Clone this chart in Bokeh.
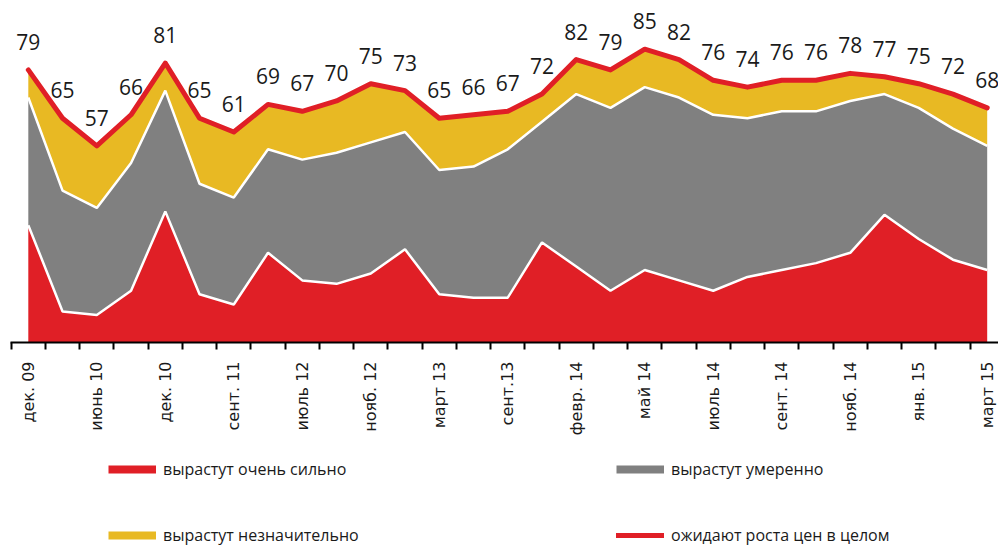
import math
from bokeh.plotting import figure
from bokeh.layouts import column
from bokeh.models import ColumnDataSource, FixedTicker, Range1d, Legend, LegendItem
from bokeh.transform import stack
from bokeh.core.properties import value
from bokeh.embed import file_html
from bokeh.resources import INLINE

# ---- data ----
periods = list(range(29))
tick_labels = ["дек. 09", "июнь 10", "дек. 10", "сент. 11", "июль 12", "нояб. 12", "март 13",
               "сент.13", "февр. 14", "май 14", "июль 14", "сент. 14", "нояб. 14", "янв. 15", "март 15"]
very_strong = [34, 9, 8, 15, 38, 14, 11, 26, 18, 17, 20, 27, 14, 13, 13, 29, 22, 15, 21, 18, 15, 19, 21, 23, 26, 37, 30, 24, 21]
moderate = [37, 35, 31, 37, 35, 32, 31, 30, 35, 38, 38, 34, 36, 38, 43, 35, 50, 53, 53, 53, 51, 46, 46, 44, 44, 35, 38, 38, 36]
slight = [8, 21, 18, 14, 8, 19, 19, 13, 14, 15, 17, 12, 15, 15, 11, 8, 10, 11, 11, 11, 10, 9, 9, 9, 8, 5, 7, 10, 11]
total = [79, 65, 57, 66, 81, 65, 61, 69, 67, 70, 75, 73, 65, 66, 67, 72, 82, 79, 85, 82, 76, 74, 76, 76, 78, 77, 75, 72, 68]
legend_labels = ["вырастут очень сильно", "вырастут умеренно",
                 "вырастут незначительно", "ожидают роста цен в целом"]

RED = "#e01f26"
GRAY = "#808080"
YELLOW = "#e8b923"
NUM_FONT = "Open Sans"

src = ColumnDataSource(dict(x=periods, red=very_strong, gray=moderate, yellow=slight,
                            total=total, lbl=[str(v) for v in total]))

p = figure(width=998, height=440, output_backend="svg", toolbar_location=None,
           x_range=Range1d(-0.52, 28.33), y_range=Range1d(0, 96.8),
           y_axis_location=None, min_border_left=10, min_border_right=0,
           min_border_top=8, min_border_bottom=98)
p.outline_line_color = None
p.grid.visible = False

p.varea_stack(["red", "gray", "yellow"], x="x", source=src, color=[RED, GRAY, YELLOW])
p.line(x="x", y=stack("red"), source=src, line_color="white", line_width=2.5)
p.line(x="x", y=stack("red", "gray"), source=src, line_color="white", line_width=2.5)
p.line(x="x", y="total", source=src, line_color=RED, line_width=5, line_join="round", line_cap="round")
p.text(x="x", y="total", text="lbl", source=src, y_offset=-28, text_align="center",
       text_baseline="middle", text_font=value(NUM_FONT), text_font_size="21px", text_color="#1a1a1a")

ax = p.xaxis[0]
ax.ticker = FixedTicker(ticks=[i for i in periods if i % 2 == 0],
                        minor_ticks=[i - 0.5 for i in periods])
ax.major_label_overrides = {i: tick_labels[i // 2] for i in periods if i % 2 == 0}
ax.major_label_orientation = math.pi / 2
ax.major_tick_line_color = None
ax.major_tick_out = 0
ax.major_tick_in = 0
ax.minor_tick_out = 7
ax.minor_tick_in = 0
ax.minor_tick_line_width = 2
ax.minor_tick_line_color = "black"
ax.axis_line_width = 2
ax.axis_line_color = "black"
ax.major_label_standoff = 12
ax.major_label_text_font = "DejaVu Sans"
ax.major_label_text_font_size = "16px"
ax.major_label_text_color = "#1a1a1a"

# legend figure
lg = figure(width=998, height=106, output_backend="svg", toolbar_location=None,
            x_range=Range1d(0, 1), y_range=Range1d(0, 1),
            x_axis_location=None, y_axis_location=None,
            min_border_left=0, min_border_right=0, min_border_top=0, min_border_bottom=0)
lg.outline_line_color = None
lg.grid.visible = False
r1 = lg.line(x=[0], y=[-10], line_color=RED, line_width=8, line_cap="butt")
r2 = lg.line(x=[0], y=[-10], line_color=GRAY, line_width=8, line_cap="butt")
r3 = lg.line(x=[0], y=[-10], line_color=YELLOW, line_width=8, line_cap="butt")
r4 = lg.line(x=[0], y=[-10], line_color=RED, line_width=5, line_cap="round")

legend = Legend(items=[LegendItem(label=legend_labels[0], renderers=[r1]),
                       LegendItem(label=legend_labels[1], renderers=[r2]),
                       LegendItem(label=legend_labels[2], renderers=[r3]),
                       LegendItem(label=legend_labels[3], renderers=[r4])],
                location=(98, 0), orientation="horizontal", ncols=2,
                glyph_width=48, glyph_height=20, label_height=20, label_width=409,
                label_standoff=7, spacing=44, padding=0, margin=0,
                border_line_color=None, background_fill_alpha=0,
                label_text_font=NUM_FONT, label_text_font_size="16px", label_text_color="#1a1a1a")
lg.add_layout(legend)

layout = column(p, lg, spacing=0)
open("out.html", "w").write(file_html(layout, INLINE))
